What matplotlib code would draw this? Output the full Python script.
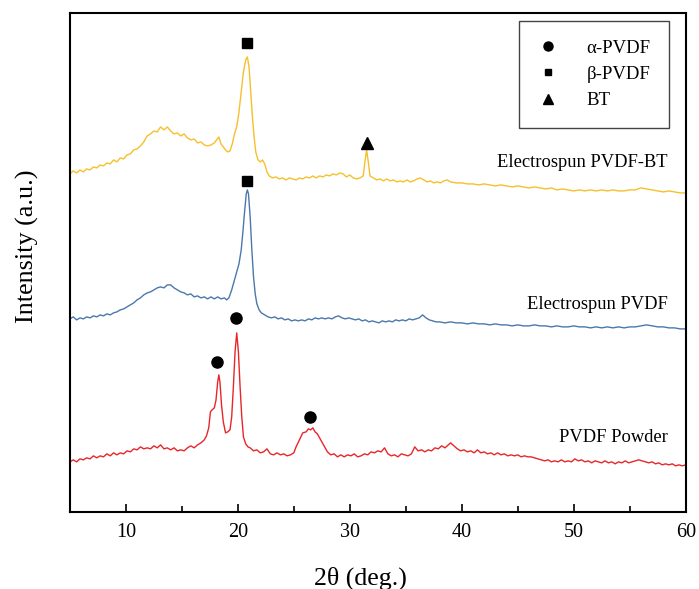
import matplotlib.pyplot as plt
from matplotlib.lines import Line2D

plt.rcParams['font.family'] = ['Liberation Serif', 'DejaVu Serif']

# (2theta, intensity), curves already stacked
powder = [(5.0, 50), (5.3, 52), (5.6, 50), (5.9, 53), (6.2, 52), (6.5, 54), (6.8, 53),
          (7.1, 56), (7.4, 54), (7.7, 56), (8.0, 55), (8.3, 58), (8.6, 56), (8.9, 59),
          (9.2, 57), (9.5, 59), (9.8, 58), (10.1, 61), (10.4, 60), (10.7, 63), (11.0, 62),
          (11.3, 65), (11.6, 63), (11.9, 64), (12.2, 63), (12.5, 66), (12.8, 64), (13.1, 67),
          (13.4, 63), (13.7, 64), (14.0, 62), (14.3, 64), (14.6, 61), (14.9, 62), (15.2, 61),
          (15.5, 64), (15.8, 66), (16.1, 64), (16.4, 67), (16.7, 69), (17.0, 72), (17.2, 76),
          (17.4, 84), (17.55, 100), (17.7, 102), (17.9, 104), (18.05, 112), (18.2, 130),
          (18.3, 137), (18.4, 130), (18.55, 106), (18.7, 90), (18.9, 79), (19.1, 80),
          (19.3, 82), (19.45, 95), (19.6, 125), (19.75, 160), (19.9, 179), (20.05, 160),
          (20.2, 125), (20.35, 95), (20.5, 75), (20.7, 68), (20.9, 65), (21.1, 64),
          (21.4, 61), (21.7, 62), (22.0, 59), (22.3, 60), (22.6, 63), (22.9, 58), (23.2, 57),
          (23.5, 59), (23.8, 57), (24.1, 58), (24.4, 56), (24.7, 57), (25.0, 59), (25.2, 65),
          (25.5, 72), (25.8, 79), (26.1, 80), (26.3, 83), (26.5, 82), (26.7, 84), (26.9, 80),
          (27.1, 78), (27.3, 74), (27.5, 70), (27.8, 64), (28.0, 60), (28.3, 57), (28.6, 58),
          (28.9, 55), (29.2, 57), (29.5, 55), (29.8, 57), (30.1, 56), (30.4, 58), (30.7, 55),
          (31.0, 56), (31.3, 58), (31.6, 57), (31.9, 60), (32.2, 59), (32.5, 61), (32.8, 60),
          (33.1, 64), (33.4, 58), (33.7, 56), (34.0, 57), (34.3, 55), (34.6, 58), (34.9, 57),
          (35.2, 56), (35.5, 58), (35.8, 65), (36.1, 61), (36.4, 62), (36.7, 60), (37.0, 62),
          (37.3, 61), (37.6, 64), (37.9, 63), (38.2, 66), (38.5, 64), (38.8, 67), (39.0, 69),
          (39.3, 66), (39.6, 63), (39.9, 61), (40.2, 62), (40.5, 60), (40.8, 61), (41.1, 59),
          (41.4, 62), (41.7, 59), (42.0, 60), (42.3, 58), (42.6, 59), (42.9, 57), (43.2, 59),
          (43.5, 57), (43.8, 58), (44.1, 56), (44.4, 57), (44.7, 56), (45.0, 57), (45.3, 55),
          (45.6, 56), (45.9, 55), (46.2, 55), (46.5, 54), (46.8, 53), (47.1, 52), (47.4, 51),
          (47.7, 52), (48.0, 50), (48.3, 51), (48.6, 50), (48.9, 52), (49.2, 50), (49.5, 51),
          (49.8, 50), (50.1, 53), (50.4, 51), (50.7, 52), (51.0, 50), (51.3, 51), (51.6, 49),
          (51.9, 51), (52.2, 50), (52.5, 49), (52.8, 51), (53.1, 49), (53.4, 50), (53.7, 48),
          (54.0, 50), (54.3, 49), (54.6, 51), (54.9, 49), (55.2, 50), (55.5, 51), (55.8, 52),
          (56.1, 51), (56.4, 50), (56.7, 49), (57.0, 50), (57.3, 48), (57.6, 49), (57.9, 47),
          (58.2, 48), (58.5, 47), (58.8, 48), (59.1, 46), (59.4, 47), (59.7, 46), (60.0, 47)]

electrospun = [(5.0, 193), (5.3, 195), (5.6, 192), (5.9, 194), (6.2, 193), (6.5, 195),
               (6.8, 194), (7.1, 196), (7.4, 195), (7.7, 197), (8.0, 196), (8.3, 198),
               (8.6, 197), (8.9, 199), (9.2, 200), (9.5, 202), (9.8, 203), (10.1, 205),
               (10.4, 207), (10.7, 209), (11.0, 212), (11.3, 214), (11.6, 217), (11.9, 219),
               (12.2, 220), (12.5, 222), (12.8, 224), (13.1, 225), (13.4, 224), (13.7, 227),
               (14.0, 227), (14.3, 224), (14.6, 222), (14.9, 220), (15.2, 219), (15.5, 217),
               (15.8, 218), (16.1, 215), (16.4, 216), (16.7, 214), (17.0, 215), (17.3, 213),
               (17.6, 215), (17.9, 213), (18.2, 215), (18.5, 213), (18.8, 214), (19.0, 212),
               (19.2, 214), (19.45, 222), (19.7, 232), (19.9, 240), (20.1, 248), (20.3, 262),
               (20.45, 280), (20.6, 300), (20.75, 318), (20.85, 322), (20.95, 318),
               (21.1, 295), (21.25, 262), (21.4, 235), (21.55, 218), (21.7, 208), (21.9, 202),
               (22.1, 199), (22.4, 197), (22.7, 195), (23.0, 194), (23.3, 195), (23.6, 193),
               (23.9, 194), (24.2, 192), (24.5, 193), (24.8, 191), (25.1, 192), (25.4, 191),
               (25.7, 192), (26.0, 191), (26.3, 193), (26.6, 192), (26.9, 194), (27.2, 193),
               (27.5, 194), (27.8, 193), (28.1, 194), (28.4, 193), (28.7, 195), (29.0, 196),
               (29.3, 194), (29.6, 193), (29.9, 194), (30.2, 193), (30.5, 192), (30.8, 193),
               (31.1, 191), (31.4, 192), (31.7, 190), (32.0, 191), (32.3, 190), (32.6, 189),
               (32.9, 191), (33.2, 190), (33.5, 191), (33.8, 190), (34.1, 192), (34.4, 191),
               (34.7, 192), (35.0, 191), (35.3, 193), (35.6, 192), (35.9, 193), (36.2, 194),
               (36.5, 197), (36.8, 194), (37.1, 192), (37.4, 191), (37.7, 190), (38.0, 190),
               (38.5, 189), (39.0, 190), (39.5, 189), (40.0, 189), (40.5, 188), (41.0, 189),
               (41.5, 188), (42.0, 188), (42.5, 187), (43.0, 188), (43.5, 187), (44.0, 187),
               (44.5, 186), (45.0, 187), (45.5, 186), (46.0, 186), (46.5, 187), (47.0, 186),
               (47.5, 186), (48.0, 185), (48.5, 186), (49.0, 185), (49.5, 185), (50.0, 186),
               (50.5, 185), (51.0, 185), (51.5, 184), (52.0, 185), (52.5, 184), (53.0, 185),
               (53.5, 184), (54.0, 185), (54.5, 184), (55.0, 185), (55.5, 185), (56.0, 186),
               (56.5, 187), (57.0, 186), (57.5, 185), (58.0, 185), (58.5, 184), (59.0, 184),
               (59.5, 183), (60.0, 183)]

electrospun_bt = [(5.0, 338), (5.3, 341), (5.6, 339), (5.9, 342), (6.2, 340), (6.5, 343),
                  (6.8, 342), (7.1, 345), (7.4, 344), (7.7, 347), (8.0, 346), (8.3, 349),
                  (8.6, 348), (8.9, 352), (9.2, 350), (9.5, 354), (9.8, 353), (10.1, 357),
                  (10.4, 358), (10.7, 362), (11.0, 363), (11.3, 366), (11.6, 370), (11.9, 376),
                  (12.2, 378), (12.5, 381), (12.8, 380), (13.1, 385), (13.4, 382), (13.7, 385),
                  (14.0, 381), (14.3, 378), (14.6, 379), (14.9, 376), (15.2, 378), (15.5, 374),
                  (15.8, 372), (16.1, 373), (16.4, 369), (16.7, 370), (17.0, 367), (17.3, 366),
                  (17.6, 367), (17.9, 369), (18.1, 372), (18.3, 375), (18.5, 368), (18.7, 365),
                  (18.9, 362), (19.1, 360), (19.3, 361), (19.5, 368), (19.7, 378), (19.9, 385),
                  (20.1, 400), (20.3, 420), (20.5, 440), (20.7, 452), (20.85, 455), (21.0, 445),
                  (21.15, 420), (21.3, 395), (21.45, 375), (21.6, 360), (21.8, 352), (22.0, 350),
                  (22.2, 352), (22.4, 348), (22.6, 340), (22.8, 336), (23.1, 334), (23.4, 335),
                  (23.7, 333), (24.0, 334), (24.3, 332), (24.6, 334), (24.9, 333), (25.2, 332),
                  (25.5, 334), (25.8, 333), (26.1, 335), (26.4, 334), (26.7, 336), (27.0, 334),
                  (27.3, 336), (27.6, 335), (27.9, 337), (28.2, 336), (28.5, 338), (28.8, 337),
                  (29.1, 339), (29.4, 338), (29.7, 335), (30.0, 337), (30.3, 334), (30.6, 333),
                  (30.9, 334), (31.2, 336), (31.35, 350), (31.5, 362), (31.65, 350), (31.8, 336),
                  (32.1, 334), (32.4, 332), (32.7, 333), (33.0, 331), (33.3, 333), (33.6, 331),
                  (33.9, 332), (34.2, 330), (34.5, 331), (34.8, 330), (35.1, 332), (35.4, 330),
                  (35.7, 331), (36.0, 333), (36.3, 334), (36.6, 332), (36.9, 330), (37.2, 331),
                  (37.5, 329), (37.8, 330), (38.1, 329), (38.4, 331), (38.7, 332), (39.0, 330),
                  (39.5, 329), (40.0, 329), (40.5, 328), (41.0, 328), (41.5, 327), (42.0, 328),
                  (42.5, 327), (43.0, 326), (43.5, 327), (44.0, 326), (44.5, 325), (45.0, 326),
                  (45.5, 325), (46.0, 324), (46.5, 325), (47.0, 324), (47.5, 323), (48.0, 324),
                  (48.5, 322), (49.0, 323), (49.5, 322), (50.0, 321), (50.5, 322), (51.0, 321),
                  (51.5, 322), (52.0, 321), (52.5, 322), (53.0, 321), (53.5, 322), (54.0, 321),
                  (54.5, 321), (55.0, 322), (55.5, 322), (56.0, 324), (56.5, 323), (57.0, 322),
                  (57.5, 321), (58.0, 320), (58.5, 321), (59.0, 320), (59.5, 319), (60.0, 319)]

# peak markers
alpha_x = [18.15, 19.8, 26.4]
alpha_y = [150, 194, 95]
beta_x = [20.8, 20.8]
beta_y = [469, 331]
bt_x = [31.55]
bt_y = [369]

curve_labels = ['PVDF Powder', 'Electrospun PVDF', 'Electrospun PVDF-BT']
label_y = [74, 207, 349]
xticks = [10, 20, 30, 40, 50, 60]

fig = plt.figure(figsize=(6.99, 5.89), dpi=100)
ax = fig.add_axes([0.100, 0.131, 0.881, 0.847])

for data, col in [(powder, '#e8262a'), (electrospun, '#4a78ad'), (electrospun_bt, '#f6c02c')]:
    xs, ys = zip(*data)
    ax.plot(xs, ys, color=col, lw=1.0)

ax.plot(alpha_x, alpha_y, 'o', color='k', ms=8)
ax.plot(beta_x, beta_y, 's', color='k', ms=6.5)
ax.plot(bt_x, bt_y, '^', color='k', ms=9)

for lab, yy in zip(curve_labels, label_y):
    ax.text(58.4, yy, lab, ha='right', va='center', fontsize=13.3)

ax.set_xlim(5, 60)
ax.set_ylim(0, 499)
ax.set_xticks(xticks)
ax.set_xticks([15, 25, 35, 45, 55], minor=True)
ax.set_yticks([])
ax.tick_params(axis='x', which='both', direction='in', labelsize=14.5, pad=8)
ax.tick_params(axis='x', which='major', length=6, width=1.2)
ax.tick_params(axis='x', which='minor', length=4, width=1.2)
for s in ax.spines.values():
    s.set_linewidth(1.5)

ax.set_xlabel('2\u03b8 (deg.)', fontsize=18.6)
ax.xaxis.set_label_coords(0.472, -0.11)
ax.set_ylabel('Intensity (a.u.)', fontsize=18.8)
ax.yaxis.set_label_coords(-0.050, 0.532)

handles = [Line2D([], [], ls='none', marker='o', color='k', ms=6.5),
           Line2D([], [], ls='none', marker='s', color='k', ms=4.5),
           Line2D([], [], ls='none', marker='^', color='k', ms=6.5)]
leg = ax.legend(handles, ['\u03b1-PVDF', '\u03b2-PVDF', 'BT'], loc='upper right',
                bbox_to_anchor=(0.973, 0.984), borderaxespad=0, fontsize=13.5,
                frameon=True, fancybox=False, edgecolor='#444444', framealpha=1,
                handletextpad=1.5, borderpad=1.0, labelspacing=0.48, handlelength=1.1)
leg.get_frame().set_linewidth(1.0)

fig.savefig('out.png', dpi=100)
